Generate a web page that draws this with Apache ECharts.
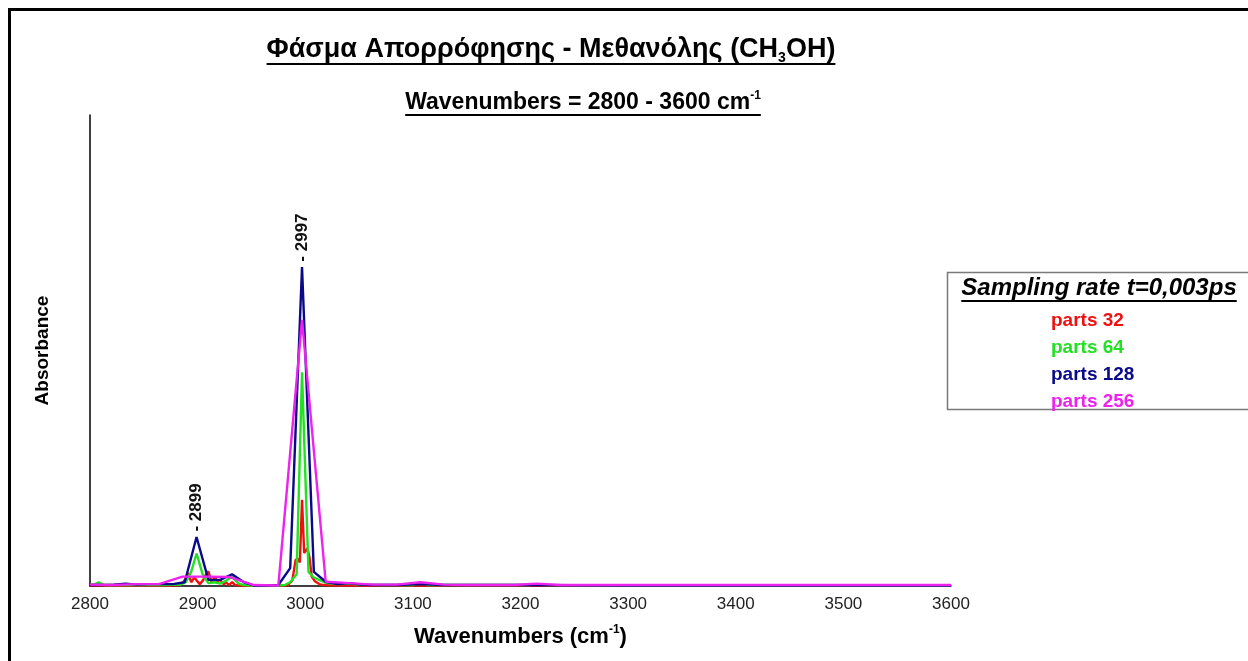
<!DOCTYPE html>
<html>
<head>
<meta charset="utf-8">
<script src="https://cdn.jsdelivr.net/npm/echarts@6/dist/echarts.min.js"></script>
<style>
  html, body { margin: 0; padding: 0; background: #fff; }
  #chart { width: 1248px; height: 661px; }
</style>
</head>
<body>
<div id="chart"></div>
<script>
// Wavenumber tick labels (cm^-1)
const xTicks = [2800, 2900, 3000, 3100, 3200, 3300, 3400, 3500, 3600];

// Series names
const seriesNames = ['parts 32', 'parts 64', 'parts 128', 'parts 256'];

// parts 32
const wn32 = [2800, 2820, 2840, 2860, 2875, 2883, 2886, 2889, 2891, 2894,
  2897, 2899, 2902, 2905, 2908, 2910, 2913, 2916, 2918, 2921,
  2924, 2927, 2929, 2932, 2935, 2940, 2960, 2980, 2984, 2988,
  2991, 2993, 2995, 2997, 2999, 3002, 3004, 3006, 3009, 3013,
  3017, 3030, 3060, 3100, 3200, 3300, 3400, 3500, 3600];
const abs32 = [0.001, 0.001, 0.001, 0.001, 0.001, 0.002, 0.006, 0.016, 0.028, 0.008,
  0.018, 0.012, 0.004, 0.012, 0.026, 0.031, 0.008, 0.020, 0.010, 0.013,
  0.004, 0.007, 0.002, 0.008, 0.002, 0.001, 0.001, 0.001, 0.002, 0.012,
  0.055, 0.058, 0.050, 0.183, 0.070, 0.080, 0.060, 0.020, 0.010, 0.004,
  0.002, 0.001, 0.001, 0.001, 0.001, 0.001, 0.001, 0.001, 0.001];

// parts 64
const wn64 = [2800, 2805, 2808, 2813, 2830, 2850, 2870, 2884, 2889, 2894,
  2899, 2905, 2910, 2916, 2921, 2927, 2932, 2938, 2943, 2950,
  2970, 2981, 2986, 2992, 2997, 3003, 3008, 3014, 3019, 3025,
  3030, 3041, 3050, 3070, 3100, 3107, 3115, 3150, 3208, 3215,
  3222, 3300, 3400, 3500, 3600];
const abs64 = [0.002, 0.004, 0.008, 0.002, 0.002, 0.002, 0.002, 0.003, 0.008, 0.030,
  0.069, 0.022, 0.006, 0.008, 0.005, 0.012, 0.020, 0.005, 0.002, 0.001,
  0.001, 0.002, 0.008, 0.025, 0.454, 0.030, 0.018, 0.012, 0.007, 0.005,
  0.004, 0.005, 0.003, 0.002, 0.002, 0.007, 0.002, 0.002, 0.002, 0.004,
  0.002, 0.001, 0.001, 0.001, 0.001];

// parts 128
const wn128 = [2800, 2811, 2822, 2833, 2844, 2855, 2866, 2877, 2888, 2899,
  2910, 2921, 2932, 2943, 2953, 2964, 2975, 2986, 2997, 3008,
  3019, 3030, 3041, 3052, 3063, 3085, 3107, 3129, 3150, 3200,
  3300, 3400, 3500, 3600];
const abs128 = [0.002, 0.002, 0.003, 0.005, 0.003, 0.004, 0.004, 0.004, 0.008, 0.104,
  0.013, 0.013, 0.025, 0.008, 0.001, 0.001, 0.002, 0.038, 0.677, 0.030,
  0.009, 0.004, 0.006, 0.003, 0.002, 0.002, 0.004, 0.002, 0.002, 0.002,
  0.001, 0.001, 0.001, 0.001];

// parts 256
const wn256 = [2800, 2821, 2843, 2864, 2886, 2908, 2930, 2952, 2975, 2997,
  3019, 3041, 3063, 3085, 3107, 3129, 3150, 3172, 3194, 3215,
  3237, 3300, 3400, 3500, 3600];
const abs256 = [0.003, 0.002, 0.004, 0.004, 0.020, 0.020, 0.019, 0.002, 0.001, 0.565,
  0.009, 0.006, 0.003, 0.003, 0.008, 0.003, 0.002, 0.002, 0.002, 0.005,
  0.002, 0.002, 0.002, 0.002, 0.002];

// Labelled band positions on the parts 128 trace
const peakWn = [2899, 2997];

const colors = ['#ee1111', '#22e022', '#0a0a88', '#ee22ee'];
const FONT = '"Liberation Sans", Arial, Helvetica, sans-serif';

const mctx = document.createElement('canvas').getContext('2d');
function textW(str, size, weight, style) {
  mctx.font = (style || 'normal') + ' ' + (weight || 'normal') + ' ' + size + 'px ' + FONT;
  return mctx.measureText(str).width;
}

const pairs = (wn, ab) => wn.map((x, i) => [x, ab[i]]);
const seriesData = [pairs(wn32, abs32), pairs(wn64, abs64), pairs(wn128, abs128), pairs(wn256, abs256)];

// Band markers sit on the parts 128 maxima
const peakMarks = peakWn.map(x => ({ coord: [x, abs128[wn128.indexOf(x)]], value: x }));

// Title pieces
const T_SIZE = 27, T_SUB = 14;
const titleA = 'Φάσμα Απορρόφησης - Μεθανόλης (CH', titleSub = '3', titleB = 'OH)';
const titleW = textW(titleA, T_SIZE, 'bold') + textW(titleSub, T_SUB, 'bold') + textW(titleB, T_SIZE, 'bold');
const titleCx = 551, titleCy = 50;

const S_SIZE = 23, S_SUP = 12;
const subA = 'Wavenumbers = 2800 - 3600 cm', subSup = '-1';
const subW = textW(subA, S_SIZE, 'bold') + textW(subSup, S_SUP, 'bold');
const subCx = 583, subCy = 103;

const L_SIZE = 24;
const legTitle = 'Sampling rate t=0,003ps';
const legW = textW(legTitle, L_SIZE, 'bold', 'italic');
const legCx = 1099, legCy = 288;

const chart = echarts.init(document.getElementById('chart'));
chart.setOption({
  animation: false,
  backgroundColor: '#fff',
  textStyle: { fontFamily: FONT },
  color: colors,
  grid: { left: 90, right: 297, top: 115, bottom: 75, containLabel: false, outerBoundsMode: 'none' },
  legend: {
    orient: 'vertical',
    left: 1041,
    top: 306,
    icon: 'rect',
    itemWidth: 0,
    itemHeight: 16,
    itemGap: 8,
    itemStyle: { opacity: 0 },
    selectedMode: false,
    data: seriesNames.map((n, i) => ({
      name: n,
      textStyle: { color: colors[i], fontSize: 19, fontWeight: 'bold', fontFamily: FONT }
    }))
  },
  xAxis: {
    type: 'value',
    min: 2800,
    max: 3600,
    interval: 100,
    name: '{n|Wavenumbers (cm}{s|-1}{n|)}',
    nameLocation: 'middle',
    nameGap: 38,
    nameTextStyle: {
      rich: {
        n: { fontSize: 22, fontWeight: 'bold', color: '#000', lineHeight: 26, fontFamily: FONT },
        s: { fontSize: 12, fontWeight: 'bold', color: '#000', lineHeight: 14, verticalAlign: 'top', fontFamily: FONT }
      }
    },
    axisLine: { show: true, onZero: false, lineStyle: { color: '#000', width: 1.5 } },
    axisTick: { show: false },
    splitLine: { show: false },
    axisLabel: {
      customValues: xTicks,
      formatter: v => String(v),
      fontSize: 17, color: '#222', margin: 10, fontFamily: FONT
    }
  },
  yAxis: {
    type: 'value',
    min: 0,
    max: 1,
    name: 'Absorbance',
    nameLocation: 'middle',
    nameRotate: 90,
    nameGap: 38,
    nameTextStyle: { fontSize: 19, fontWeight: 'bold', color: '#000', fontFamily: FONT },
    axisLine: { show: true, lineStyle: { color: '#000', width: 1.5 } },
    axisTick: { show: false },
    axisLabel: { show: false },
    splitLine: { show: false }
  },
  series: seriesNames.map((n, i) => {
    const s = {
      name: n,
      type: 'line',
      symbol: 'none',
      showSymbol: false,
      lineStyle: { width: 2.4, color: colors[i] },
      emphasis: { disabled: true },
      data: seriesData[i],
      z: 2 + i
    };
    if (n === 'parts 128') {
      s.markPoint = {
        symbol: 'circle',
        symbolSize: 1,
        itemStyle: { color: 'rgba(0,0,0,0)' },
        silent: true,
        label: {
          show: true,
          position: 'top',
          distance: 5,
          rotate: 90,
          align: 'left',
          verticalAlign: 'middle',
          formatter: p => '- ' + p.value,
          fontSize: 17,
          fontWeight: 'bold',
          color: '#111',
          fontFamily: FONT
        },
        data: peakMarks
      };
    }
    return s;
  }),
  graphic: [
    // page frame
    { type: 'polyline', silent: true, shape: { points: [[9.5, 661], [9.5, 9.5], [1248, 9.5]] },
      style: { stroke: '#000', lineWidth: 3, fill: null } },
    // main title
    { type: 'text', x: titleCx, y: titleCy, silent: true,
      style: {
        text: '{m|' + titleA + '}{s|' + titleSub + '}{m|' + titleB + '}',
        align: 'center', verticalAlign: 'middle',
        rich: {
          m: { fontSize: T_SIZE, fontWeight: 'bold', fill: '#000', lineHeight: 30, fontFamily: FONT },
          s: { fontSize: T_SUB, fontWeight: 'bold', fill: '#000', lineHeight: 16, verticalAlign: 'bottom', fontFamily: FONT }
        }
      } },
    { type: 'line', silent: true,
      shape: { x1: titleCx - titleW / 2, y1: 64, x2: titleCx + titleW / 2, y2: 64 },
      style: { stroke: '#000', lineWidth: 2 } },
    // subtitle
    { type: 'text', x: subCx, y: subCy, silent: true,
      style: {
        text: '{m|' + subA + '}{s|' + subSup + '}',
        align: 'center', verticalAlign: 'middle',
        rich: {
          m: { fontSize: S_SIZE, fontWeight: 'bold', fill: '#000', lineHeight: 26, fontFamily: FONT },
          s: { fontSize: S_SUP, fontWeight: 'bold', fill: '#000', lineHeight: 14, verticalAlign: 'top', fontFamily: FONT }
        }
      } },
    { type: 'line', silent: true,
      shape: { x1: subCx - subW / 2, y1: 115, x2: subCx + subW / 2, y2: 115 },
      style: { stroke: '#000', lineWidth: 2 } },
    // legend frame and heading
    { type: 'rect', silent: true, shape: { x: 947.5, y: 272.5, width: 310, height: 137 },
      style: { stroke: '#7a7a7a', lineWidth: 1.5, fill: 'rgba(0,0,0,0)' }, z: 0 },
    { type: 'text', x: legCx, y: legCy, silent: true,
      style: {
        text: legTitle, align: 'center', verticalAlign: 'middle',
        fontSize: L_SIZE, fontWeight: 'bold', fontStyle: 'italic', fill: '#000', fontFamily: FONT
      } },
    { type: 'line', silent: true,
      shape: { x1: legCx - legW / 2, y1: 301, x2: legCx + legW / 2, y2: 301 },
      style: { stroke: '#000', lineWidth: 2 } }
  ]
});
</script>
</body>
</html>
